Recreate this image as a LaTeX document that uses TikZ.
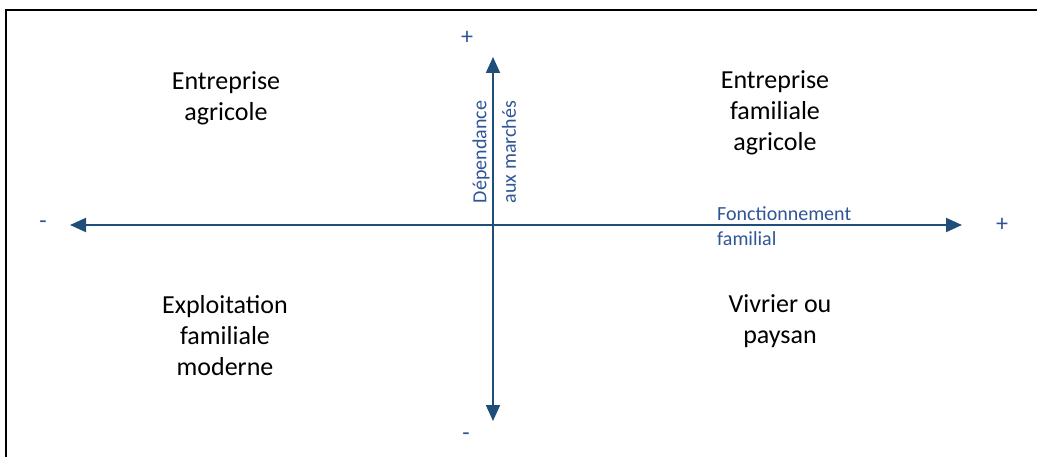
\documentclass[tikz,border=0pt]{standalone}
\usepackage{fontspec}
\setmainfont{Carlito}
\usetikzlibrary{arrows.meta}
\definecolor{axisblue}{HTML}{1F4E79}
\definecolor{labelblue}{HTML}{2F5597}
\tikzset{
  quad/.style={align=center, font=\fontsize{26}{31}\selectfont, text=black, inner sep=0pt},
  axlabel/.style={font=\fontsize{20}{24}\selectfont, text=labelblue, inner sep=0pt},
  sign/.style={font=\fontsize{24}{28}\selectfont, text=labelblue, inner sep=0pt},
  axisline/.style={draw=axisblue, line width=2pt, {Triangle[length=16pt,width=14pt]}-{Triangle[length=16pt,width=14pt]}}
}
\begin{document}
\begin{tikzpicture}[x=1pt,y=-1pt]
\useasboundingbox (0,0) rectangle (1037,457);
\draw[line width=1.5pt] (6,460) -- (6,10) -- (1040,10);
\coordinate (L) at (70,225);
\coordinate (R) at (962,225);
\coordinate (T) at (493,57);
\coordinate (B) at (493,421);
\draw[axisline] (L) -- (R);
\draw[axisline] (B) -- (T);
\node[sign] (ptop) at (467,38) {+};
\node[sign] (mbot) at (466,437) {-};
\node[sign] (mleft) at (43,225) {-};
\node[sign] (pright) at (1002,225) {+};
\node[quad] (q1) at (226,98) {Entreprise\\agricole};
\node[quad] (q2) at (775,113) {Entreprise\\familiale\\agricole};
\node[quad] (q3) at (225,336) {Exploitation\\familiale\\moderne};
\node[quad] (q4) at (780,321) {Vivrier ou\\paysan};
\node[axlabel, rotate=90, anchor=center] (dep) at (481,152) {Dépendance};
\node[axlabel, rotate=90, anchor=center] (aux) at (509,152) {aux marchés};
\node[axlabel, anchor=west] (fonc) at (717,214) {Fonctionnement};
\node[axlabel, anchor=west] (fam) at (717,239) {familial};
\end{tikzpicture}
\end{document}
